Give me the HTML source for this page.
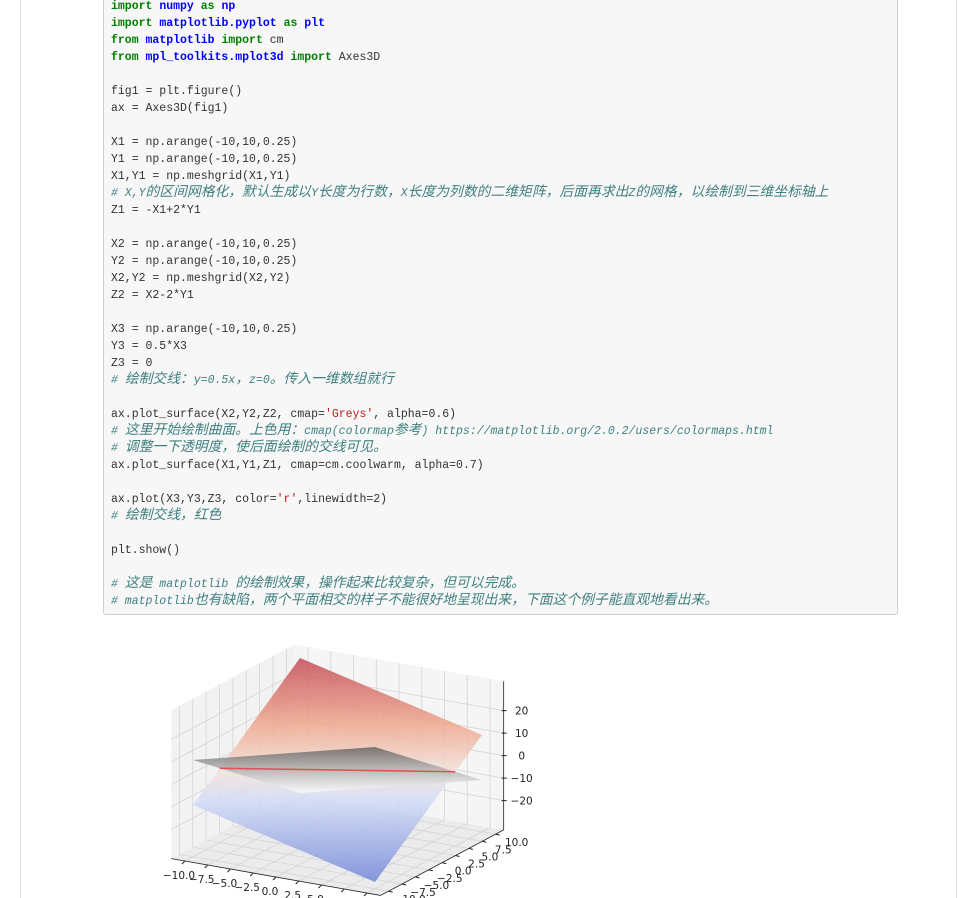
<!DOCTYPE html>
<html><head><meta charset="utf-8">
<style>
html,body{margin:0;padding:0;background:#fff;width:975px;height:898px;overflow:hidden;position:relative}
.cellborder{position:absolute;left:20px;top:-2px;width:935px;height:910px;border-left:1px solid #e0e0e0;border-right:1px solid #e0e0e0}
.code{position:absolute;left:103px;top:-6px;width:795px;height:621px;background:#f7f7f7;border:1px solid #cfcfcf;border-radius:3px;box-sizing:border-box}
pre{margin:0;position:absolute;left:7px;top:3px;font-family:"Liberation Mono","Noto Sans CJK SC",monospace;font-size:11.5px;line-height:17px;color:#333}
.cj{font-family:"Noto Sans CJK SC","WenQuanYi Zen Hei",sans-serif;font-size:13.8px;line-height:10px}
.k{color:#008000;font-weight:bold}.m{color:#0000ff;font-weight:bold}.c{color:#408080;font-style:italic}.s{color:#ba2121}
svg{position:absolute;left:0;top:0}
</style></head><body>
<div class="cellborder"></div>
<div class="code"><pre id="codepre"><span class="k">import</span> <span class="m">numpy</span> <span class="k">as</span> <span class="m">np</span>
<span class="k">import</span> <span class="m">matplotlib.pyplot</span> <span class="k">as</span> <span class="m">plt</span>
<span class="k">from</span> <span class="m">matplotlib</span> <span class="k">import</span> cm
<span class="k">from</span> <span class="m">mpl_toolkits.mplot3d</span> <span class="k">import</span> Axes3D

fig1 = plt.figure()
ax = Axes3D(fig1)

X1 = np.arange(-10,10,0.25)
Y1 = np.arange(-10,10,0.25)
X1,Y1 = np.meshgrid(X1,Y1)
<span class="c"># X,Y的区间网格化，默认生成以Y长度为行数，X长度为列数的二维矩阵，后面再求出Z的网格，以绘制到三维坐标轴上</span>
Z1 = -X1+2*Y1

X2 = np.arange(-10,10,0.25)
Y2 = np.arange(-10,10,0.25)
X2,Y2 = np.meshgrid(X2,Y2)
Z2 = X2-2*Y1

X3 = np.arange(-10,10,0.25)
Y3 = 0.5*X3
Z3 = 0
<span class="c"># 绘制交线：y=0.5x，z=0。传入一维数组就行</span>

ax.plot_surface(X2,Y2,Z2, cmap=<span class="s">'Greys'</span>, alpha=0.6)
<span class="c"># 这里开始绘制曲面。上色用：cmap(colormap参考) https://matplotlib.org/2.0.2/users/colormaps.html</span>
<span class="c"># 调整一下透明度，使后面绘制的交线可见。</span>
ax.plot_surface(X1,Y1,Z1, cmap=cm.coolwarm, alpha=0.7)

ax.plot(X3,Y3,Z3, color=<span class="s">'r'</span>,linewidth=2)
<span class="c"># 绘制交线，红色</span>

plt.show()

<span class="c"># 这是 matplotlib 的绘制效果，操作起来比较复杂，但可以完成。</span>
<span class="c"># matplotlib也有缺陷，两个平面相交的样子不能很好地呈现出来，下面这个例子能直观地看出来。</span></pre></div>

<svg id="chart" width="975" height="898">
<defs>
<linearGradient id="cw" gradientUnits="userSpaceOnUse" x1="0" y1="655" x2="0" y2="890">
<stop offset="0" stop-color="#c24552"/><stop offset="0.3" stop-color="#efa88e"/><stop offset="0.5" stop-color="#f1e3dc"/><stop offset="0.62" stop-color="#d2dcf7"/><stop offset="1" stop-color="#6a7fd6"/>
</linearGradient>
<linearGradient id="gr" gradientUnits="userSpaceOnUse" x1="0" y1="747" x2="0" y2="793">
<stop offset="0" stop-color="#5e5e5e"/><stop offset="0.45" stop-color="#a8a8a8"/><stop offset="1" stop-color="#ffffff"/>
</linearGradient>
</defs>
<g id="panes"></g><g id="grid"></g><g id="surfaces"></g><g id="axes"></g>
</svg>
<script>
const xTicks=[-10,-7.5,-5,-2.5,0,2.5,5,7.5,10];
const yTicks=[-10,-7.5,-5,-2.5,0,2.5,5,7.5,10];
const zTicks=[-20,-10,0,10,20];
const xLabels=["−10.0","−7.5","−5.0","−2.5","0.0","2.5","5.0","7.5","10.0"];
const yLabels=["−10.0","−7.5","−5.0","−2.5","0.0","2.5","5.0","7.5","10.0"];
const zLabels=["−20","−10","0","10","20"];
const surfX=[-10,10];
const surfY=[-10,10];
const coefRed=[-1,2];
const coefGray=[1,-2];
const lineX=[-10,10];
const lineSlope=0.5;
const lineZ=0;
// widen CJK glyphs to full-width like the original
(function(){const pre=document.getElementById('codepre');
 pre.querySelectorAll('.c').forEach(s=>{s.innerHTML=s.innerHTML.replace(/([\u3000-\u303f\u4e00-\u9fff\uff00-\uffef]+)/g,'<span class="cj">$1</span>');});})();
const L=11.5, ZL=33;
function P(x,y,z){return [337.5+9.1*x+5.35*y, 770+1.6*x-2.85*y-2.25*z];}
const NS="http://www.w3.org/2000/svg";
function mk(tag,attrs,parent){const e=document.createElementNS(NS,tag);for(const k in attrs)e.setAttribute(k,attrs[k]);parent.appendChild(e);return e;}
function pts(a){return a.map(p=>p.join(",")).join(" ");}
const panes=document.getElementById('panes'),grid=document.getElementById('grid'),surf=document.getElementById('surfaces'),axes=document.getElementById('axes');
let e;
e=mk('polygon',{points:pts([P(-L,-L,-ZL),P(-L,L,-ZL),P(L,L,-ZL),P(L,-L,-ZL)]),fill:'#ebebeb'},panes);


e=mk('polygon',{points:pts([P(-L,-L,-ZL),P(-L,L,-ZL),P(-L,L,ZL),P(-L,-L,ZL)]),fill:'#f2f2f2'},panes);


e=mk('polygon',{points:pts([P(-L,L,-ZL),P(L,L,-ZL),P(L,L,ZL),P(-L,L,ZL)]),fill:'#f5f5f5'},panes);


const gs={stroke:'#d4d4d4','stroke-width':0.8};
xTicks.forEach(t=>{const a=P(t,-L,-ZL),b=P(t,L,-ZL),c=P(t,L,ZL);
 e=mk('polyline',Object.assign({points:pts([a,b,c]),fill:'none'},gs),grid);
 
 });
yTicks.forEach(t=>{const a=P(L,t,-ZL),b=P(-L,t,-ZL),c=P(-L,t,ZL);
 e=mk('polyline',Object.assign({points:pts([a,b,c]),fill:'none'},gs),grid);
 
 });
zTicks.forEach(t=>{const a=P(-L,-L,t),b=P(-L,L,t),c=P(L,L,t);
 e=mk('polyline',Object.assign({points:pts([a,b,c]),fill:'none'},gs),grid);
 
 });
function plane(c){return [[surfX[0],surfY[0]],[surfX[1],surfY[0]],[surfX[1],surfY[1]],[surfX[0],surfY[1]]].map(([x,y])=>P(x,y,c[0]*x+c[1]*y));}
e=mk('polygon',{points:pts(plane(coefRed)),fill:'url(#cw)','fill-opacity':0.85},surf);


e=mk('polygon',{points:pts(plane(coefGray)),fill:'url(#gr)','fill-opacity':0.8},surf);


e=mk('polyline',{points:pts(lineX.map(x=>P(x,lineSlope*x,lineZ))),stroke:'#e8383d','stroke-width':1.6,fill:'none','stroke-opacity':0.8},surf);


const ax1=P(-L,-L,-ZL),ax2=P(L,-L,-ZL),ay2=P(L,L,-ZL),az1=P(L,L,-ZL),az2=P(L,L,ZL);
e=mk('line',{x1:ax1[0],y1:ax1[1],x2:ax2[0],y2:ax2[1],stroke:'#222','stroke-width':0.8},axes);


e=mk('line',{x1:ax2[0],y1:ax2[1],x2:ay2[0],y2:ay2[1],stroke:'#222','stroke-width':0.8},axes);


e=mk('line',{x1:az1[0],y1:az1[1],x2:az2[0],y2:az2[1],stroke:'#222','stroke-width':0.8},axes);


const tf={'font-family':'"DejaVu Sans","Liberation Sans",sans-serif','font-size':10.5,fill:'#222'};
xTicks.forEach((t,i)=>{const p=P(t,-L,-ZL);
 e=mk('line',{x1:p[0],y1:p[1],x2:p[0]-3,y2:p[1]+3,stroke:'#222'},axes);
 
 
 e=mk('text',Object.assign({x:p[0]-6,y:p[1]+18,'text-anchor':'middle'},tf),axes);e.textContent=xLabels[i];
 
 });
yTicks.forEach((t,i)=>{const p=P(L,t,-ZL);
 e=mk('line',{x1:p[0],y1:p[1],x2:p[0]+4,y2:p[1]+1,stroke:'#222'},axes);
 
 
 e=mk('text',Object.assign({x:p[0]+21,y:p[1]+12,'text-anchor':'middle'},tf),axes);e.textContent=yLabels[i];
 
 });
zTicks.forEach((t,i)=>{const p=P(L,L,t);
 e=mk('line',{x1:p[0]-2,y1:p[1],x2:p[0]+3,y2:p[1],stroke:'#222'},axes);
 
 
 e=mk('text',Object.assign({x:p[0]+18,y:p[1]+4,'text-anchor':'middle'},tf),axes);e.textContent=zLabels[i];
 
 });
</script>
</body></html>
